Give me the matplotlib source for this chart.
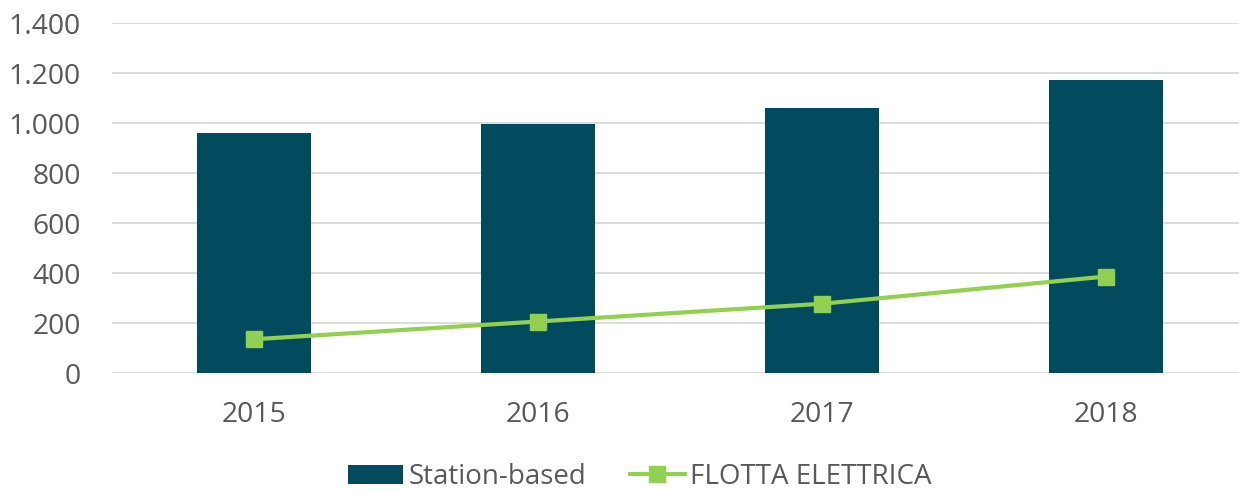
import matplotlib
matplotlib.use('Agg')
import matplotlib.pyplot as plt
import numpy as np

# --- Data ---
years = ['2015', '2016', '2017', '2018']
station_based = [961, 996, 1060, 1171]
flotta_elettrica = [135, 206, 277, 386]
y_ticks = [0, 200, 400, 600, 800, 1000, 1200, 1400]
y_tick_labels = ['0', '200', '400', '600', '800', '1.000', '1.200', '1.400']

BAR_COLOR = '#024B5E'
LINE_COLOR = '#92D050'
TEXT_COLOR = '#595959'
GRID_COLOR = '#D9D9D9'

plt.rcParams['font.family'] = ['Open Sans', 'DejaVu Sans']

W, H = 1239, 490
fig = plt.figure(figsize=(W / 100, H / 100), dpi=100)
# plot area: x 112 -> right edge (cropped), y 23 -> 373 px
ax = fig.add_axes([112 / W, 1 - 373 / H, 1 - 112 / W, 350 / H])

x = np.arange(len(years))
bars = ax.bar(x, station_based, width=0.4, color=BAR_COLOR, zorder=3, label='Station-based')
line, = ax.plot(x, flotta_elettrica, color=LINE_COLOR, linewidth=3.0, marker='s', markersize=11,
                zorder=4, label='FLOTTA ELETTRICA')

ax.set_ylim(0, 1400)
ax.set_xlim(-0.5, 3.5 - 9 / 284)
ax.set_yticks(y_ticks)
ax.set_yticklabels(y_tick_labels)
ax.set_xticks(x)
ax.set_xticklabels(years)
ax.tick_params(axis='both', length=0, labelsize=20.3, colors=TEXT_COLOR)
ax.tick_params(axis='y', pad=22.3)
ax.tick_params(axis='x', pad=20.5)

ax.grid(axis='y', color=GRID_COLOR, linewidth=1.3, zorder=0)
for s in ax.spines.values():
    s.set_visible(False)

fig.legend([bars, line], ['Station-based', 'FLOTTA ELETTRICA'],
           loc='center', bbox_to_anchor=(640 / W, 1 - 477 / H), ncol=2, frameon=False,
           fontsize=20, handlelength=1.95, handletextpad=0.2, columnspacing=1.6,
           labelcolor=TEXT_COLOR)

fig.savefig('out.png', dpi=100)
